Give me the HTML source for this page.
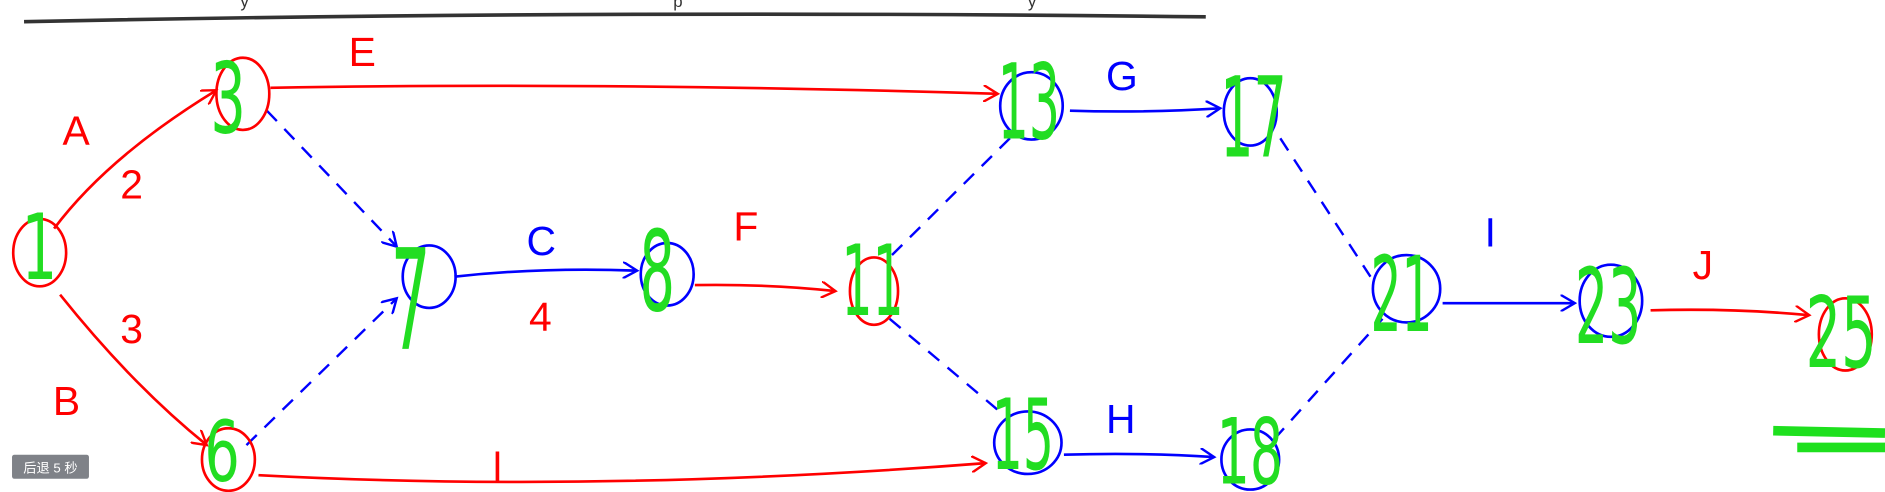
<!DOCTYPE html>
<html><head><meta charset="utf-8"><style>
html,body{margin:0;padding:0;background:#fff;width:1885px;height:492px;overflow:hidden}
svg{display:block;overflow:hidden}
.r{stroke:#f00;fill:none;stroke-width:2.2}
.b{stroke:#00f;fill:none;stroke-width:2.2}
.d{stroke:#00f;fill:none;stroke-width:2;stroke-dasharray:12 9}
.lr{fill:#f00;font-family:"Liberation Sans",sans-serif;font-size:34px}
.lb{fill:#00f;font-family:"Liberation Sans",sans-serif;font-size:34px}
.g{fill:#22dd22;font-family:"DejaVu Sans",sans-serif;font-weight:normal;font-size:58px}
</style></head><body>
<svg width="1885" height="492" viewBox="0 0 1568 409" preserveAspectRatio="none">
<defs>
<marker id="ar" markerWidth="14" markerHeight="14" refX="12" refY="7" orient="auto" markerUnits="userSpaceOnUse"><path d="M0,0 L12,7 L0,14" fill="none" stroke="#f00" stroke-width="2"/></marker>
<marker id="ab" markerWidth="14" markerHeight="14" refX="12" refY="7" orient="auto" markerUnits="userSpaceOnUse"><path d="M0,0 L12,7 L0,14" fill="none" stroke="#00f" stroke-width="2"/></marker>
</defs>
<path d="M20,18 Q500,8 1003,14" stroke="#333" stroke-width="3" fill="none"/>
<text x="200" y="6" fill="#333" font-size="14" font-family="Liberation Sans,sans-serif">y</text>
<text x="560" y="6" fill="#333" font-size="14" font-family="Liberation Sans,sans-serif">p</text>
<text x="855" y="6" fill="#333" font-size="14" font-family="Liberation Sans,sans-serif">y</text>

<g>
<path class="r" d="M45,190 Q90,130 180,75" marker-end="url(#ar)"/>
<path class="r" d="M50,245 Q110,320 172,370" marker-end="url(#ar)"/>
<path class="r" d="M225,73 Q500,68 830,78" marker-end="url(#ar)"/>
<path class="d" d="M222,92 L330,205" marker-end="url(#ab)"/>
<path class="d" d="M205,370 L330,248" marker-end="url(#ab)"/>
<path class="b" d="M378,230 Q450,222 530,225" marker-end="url(#ab)"/>
<path class="r" d="M578,237 Q640,236 695,242" marker-end="url(#ar)"/>
<path class="d" d="M742,212 L845,110"/>
<path class="d" d="M740,265 L835,345"/>
<path class="b" d="M890,92 Q950,94 1015,90" marker-end="url(#ab)"/>
<path class="r" d="M215,395 Q500,410 820,385" marker-end="url(#ar)"/>
<path class="b" d="M885,378 Q950,376 1010,380" marker-end="url(#ab)"/>
<path class="d" d="M1065,115 L1140,230"/>
<path class="d" d="M1060,365 L1150,265"/>
<path class="b" d="M1200,252 L1310,252" marker-end="url(#ab)"/>
<path class="r" d="M1373,258 Q1440,256 1505,262" marker-end="url(#ar)"/>
</g>

<text class="lr" x="52" y="120">A</text>
<text class="lr" x="100" y="165">2</text>
<text class="lr" x="100" y="285">3</text>
<text class="lr" x="44" y="345">B</text>
<text class="lr" x="290" y="55">E</text>
<text class="lb" x="438" y="212">C</text>
<text class="lr" x="440" y="275">4</text>
<text class="lr" x="610" y="200">F</text>
<text class="lb" x="920" y="75">G</text>
<text class="lr" x="410" y="400">l</text>
<text class="lb" x="920" y="360">H</text>
<text class="lb" x="1235" y="205">I</text>
<text class="lr" x="1408" y="232">J</text>

<g>
<ellipse class="r" cx="33" cy="210" rx="22" ry="28"/>
<ellipse class="r" cx="202" cy="78" rx="22" ry="30"/>
<ellipse class="b" cx="357" cy="230" rx="22" ry="26"/>
<ellipse class="b" cx="555" cy="228" rx="22" ry="26"/>
<ellipse class="r" cx="727" cy="242" rx="20" ry="28"/>
<ellipse class="b" cx="858" cy="88" rx="26" ry="28"/>
<ellipse class="b" cx="1040" cy="93" rx="22" ry="28"/>
<ellipse class="b" cx="1170" cy="240" rx="28" ry="28"/>
<ellipse class="b" cx="1340" cy="250" rx="26" ry="30"/>
<ellipse class="r" cx="1535" cy="278" rx="22" ry="30"/>
<ellipse class="r" cx="190" cy="382" rx="22" ry="26"/>
<ellipse class="b" cx="855" cy="368" rx="28" ry="26"/>
<ellipse class="b" cx="1040" cy="382" rx="24" ry="25"/>
</g>

<g>
<text class="g" transform="translate(18,232) scale(0.8,1.3)">1</text>
<text class="g" transform="translate(175,110) scale(0.8,1.4)">3</text>
<text class="g" transform="translate(325,290) scale(0.9,2.0)">7</text>
<text class="g" transform="translate(532,258) scale(0.8,1.6)">8</text>
<text class="g" transform="translate(700,262) scale(0.7,1.4)">11</text>
<text class="g" transform="translate(830,115) scale(0.7,1.5)">13</text>
<text class="g" transform="translate(1015,130) scale(0.75,1.6)">17</text>
<text class="g" transform="translate(1140,275) scale(0.7,1.5)">21</text>
<text class="g" transform="translate(1310,285) scale(0.75,1.5)">23</text>
<text class="g" transform="translate(1502,305) scale(0.8,1.4)">25</text>
<text class="g" transform="translate(170,400) scale(0.8,1.2)">6</text>
<text class="g" transform="translate(825,390) scale(0.7,1.4)">15</text>
<text class="g" transform="translate(1012,402) scale(0.75,1.3)">18</text>
</g>
<path d="M1475,358 L1568,360 M1495,372 L1568,372" stroke="#1ee01e" stroke-width="8"/>

<g>
<rect x="10" y="378" width="64" height="20" rx="2" fill="#7f8288"/>
<text x="42" y="393" fill="#fff" font-size="11" text-anchor="middle" font-family="Liberation Sans,Noto Sans CJK SC,sans-serif">后退 5 秒</text>
</g>
</svg>
</body></html>
